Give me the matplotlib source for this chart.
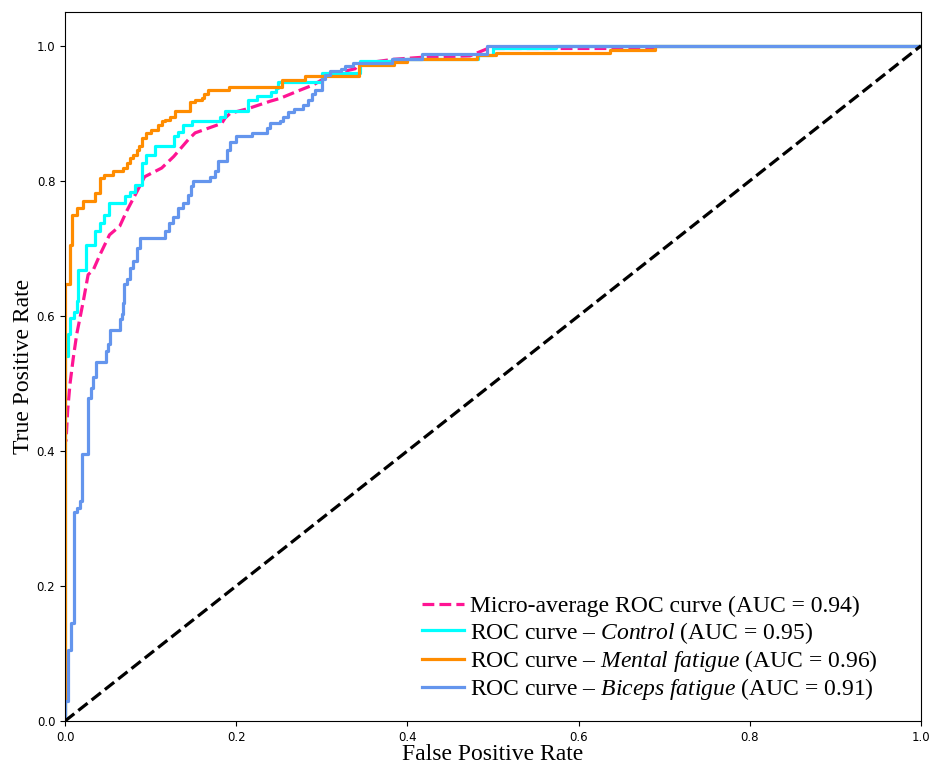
import matplotlib
matplotlib.use("Agg")
import matplotlib.pyplot as plt

plt.rcParams['mathtext.fontset'] = 'custom'
plt.rcParams['mathtext.rm'] = 'Liberation Serif'
plt.rcParams['mathtext.it'] = 'Liberation Serif:italic'

# micro-average ROC (fpr, tpr); its tail along tpr = 1 is hidden under the other curves
micro_fpr = [0.0, 0.0, 0.0012, 0.0031, 0.0058, 0.0097, 0.0137, 0.0175, 0.0214, 0.027, 0.033, 0.041,
             0.052, 0.064, 0.072, 0.084, 0.093, 0.113, 0.127, 0.144, 0.152, 0.183, 0.187, 0.193,
             0.214, 0.240, 0.251, 0.274, 0.290, 0.302, 0.308, 0.329, 0.339, 0.343, 0.384, 0.418,
             0.473, 0.494, 0.687, 0.687]
micro_tpr = [0.0, 0.415, 0.415, 0.46, 0.499, 0.538, 0.573, 0.597, 0.622, 0.661, 0.668, 0.691,
             0.72, 0.733, 0.755, 0.784, 0.806, 0.819, 0.836, 0.861, 0.871, 0.885, 0.893, 0.90,
             0.907, 0.918, 0.922, 0.934, 0.942, 0.951, 0.956, 0.963, 0.966, 0.973, 0.98, 0.983,
             0.985, 0.996, 0.996, 1.0]

# step corners: (x, y) -> at x the curve rises to y
control_x = [0.0, 0.003, 0.006, 0.011, 0.014, 0.0155, 0.025, 0.035, 0.041, 0.045, 0.051, 0.070,
             0.076, 0.082, 0.090, 0.095, 0.105, 0.127, 0.132, 0.138, 0.148, 0.181, 0.187, 0.214,
             0.224, 0.241, 0.247, 0.249, 0.300, 0.345, 0.383, 0.483, 0.500, 0.574]
control_y = [0.54, 0.573, 0.597, 0.605, 0.622, 0.668, 0.705, 0.725, 0.738, 0.75, 0.767, 0.777,
             0.784, 0.794, 0.826, 0.838, 0.851, 0.866, 0.873, 0.883, 0.888, 0.895, 0.903, 0.92,
             0.925, 0.932, 0.937, 0.947, 0.959, 0.977, 0.981, 0.986, 0.996, 1.0]

mental_x = [0.0, 0.006, 0.008, 0.014, 0.021, 0.035, 0.041, 0.045, 0.056, 0.068, 0.072, 0.076,
            0.080, 0.084, 0.086, 0.090, 0.095, 0.101, 0.109, 0.113, 0.117, 0.123, 0.129, 0.146,
            0.152, 0.160, 0.162, 0.167, 0.191, 0.253, 0.280, 0.343, 0.384, 0.400, 0.481, 0.504,
            0.637, 0.689]
mental_y = [0.647, 0.705, 0.75, 0.76, 0.77, 0.782, 0.804, 0.809, 0.814, 0.819, 0.826, 0.834,
            0.838, 0.846, 0.851, 0.863, 0.871, 0.875, 0.883, 0.888, 0.89, 0.895, 0.903, 0.917,
            0.92, 0.922, 0.929, 0.934, 0.939, 0.949, 0.955, 0.971, 0.976, 0.98, 0.986, 0.99,
            0.994, 1.0]

biceps_x = [0.0, 0.003, 0.007, 0.010, 0.011, 0.014, 0.018, 0.0195, 0.027, 0.030, 0.033, 0.036,
            0.048, 0.050, 0.0525, 0.064, 0.0665, 0.068, 0.069, 0.072, 0.076, 0.080, 0.084, 0.0875,
            0.117, 0.121, 0.126, 0.132, 0.138, 0.144, 0.147, 0.150, 0.169, 0.175, 0.179, 0.189,
            0.193, 0.200, 0.218, 0.236, 0.240, 0.251, 0.255, 0.261, 0.267, 0.278, 0.284, 0.288,
            0.292, 0.300, 0.304, 0.310, 0.323, 0.327, 0.337, 0.382, 0.417, 0.493]
biceps_y = [0.03, 0.105, 0.145, 0.25, 0.31, 0.316, 0.326, 0.396, 0.479, 0.493, 0.51, 0.532,
            0.548, 0.558, 0.579, 0.595, 0.603, 0.619, 0.647, 0.654, 0.671, 0.681, 0.70, 0.715,
            0.725, 0.737, 0.747, 0.76, 0.767, 0.779, 0.792, 0.80, 0.806, 0.814, 0.829, 0.846,
            0.858, 0.866, 0.871, 0.878, 0.885, 0.888, 0.895, 0.902, 0.906, 0.912, 0.919, 0.929,
            0.934, 0.951, 0.956, 0.962, 0.966, 0.97, 0.974, 0.981, 0.988, 1.0]

labels = ['Micro-average ROC curve (AUC = 0.94)',
          r'ROC curve – $\it{Control}$ (AUC = 0.95)',
          r'ROC curve – $\it{Mental\ fatigue}$ (AUC = 0.96)',
          r'ROC curve – $\it{Biceps\ fatigue}$ (AUC = 0.91)']
colors = ['deeppink', 'aqua', 'darkorange', 'cornflowerblue']


def steps(xs, ys):
    # build staircase vertices from the corner lists
    px, py = [0.0], [0.0]
    for x, y in zip(xs, ys):
        px += [x, x]
        py += [py[-1], y]
    px.append(1.0)
    py.append(1.0)
    return px, py


def do_plot():
    fig = plt.figure(figsize=(9.34, 7.65), dpi=100)
    ax = fig.add_axes([0.0696, 0.0575, 0.9165, 0.9268])

    lw = 2.3
    ax.plot(micro_fpr, micro_tpr, color=colors[0], linestyle='--', lw=lw, label=labels[0])
    for (xs, ys), c, lab in zip([(control_x, control_y), (mental_x, mental_y), (biceps_x, biceps_y)],
                                colors[1:], labels[1:]):
        px, py = steps(xs, ys)
        ax.plot(px, py, color=c, lw=lw, label=lab)
    ax.plot([0, 1], [0, 1], 'k--', lw=lw)

    ax.set_xlim(0.0, 1.0)
    ax.set_ylim(0.0, 1.05)
    ax.tick_params(labelsize=8.5)
    ax.set_xlabel('False Positive Rate', family='Liberation Serif', fontsize=17, labelpad=0.5)
    ax.set_ylabel('True Positive Rate', family='Liberation Serif', fontsize=17, labelpad=2)

    ax.legend(loc='lower right', bbox_to_anchor=(0.961, 0.013), frameon=False,
              prop={'family': 'Liberation Serif', 'size': 17},
              handlelength=1.8, handletextpad=0.25, labelspacing=0.1, borderaxespad=0)

    plt.savefig('out.png', dpi=100)


if __name__ == "__main__":
    do_plot()
